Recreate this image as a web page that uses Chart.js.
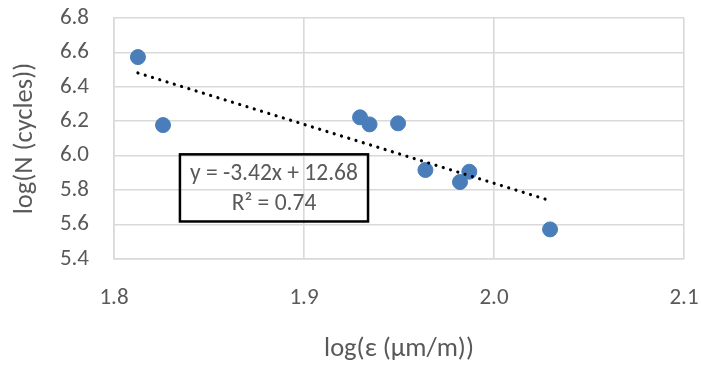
<!DOCTYPE html>
<html>
<head>
<meta charset="utf-8">
<script src="https://cdn.jsdelivr.net/npm/chart.js@4/dist/chart.umd.min.js"></script>
<style>
  html, body { margin: 0; padding: 0; background: #fff; }
  #wrap { width: 701px; height: 365px; }
</style>
</head>
<body>
<div id="wrap"><canvas id="fatigueChart" width="701" height="365"></canvas></div>
<script>
// log strain vs log cycles
const strainLog = [1.8126, 1.8258, 1.9295, 1.9345, 1.9495, 1.9639, 1.9870, 1.9821, 2.0295];
const cyclesLog = [6.573, 6.178, 6.223, 6.182, 6.188, 5.917, 5.907, 5.847, 5.572];

// linear trendline as printed in the box
const trendSlope = -3.42;
const trendIntercept = 12.68;
const trendLabels = ["y = -3.42x + 12.68", "R\u00b2 = 0.74"];

const xTicks = [1.8, 2.1];
const yTicks = [5.4, 6.8];

const FONT = "Carlito, Calibri, Lato, sans-serif";
const TEXT_GREY = "#595959";
const GRID_GREY = "#d9d9d9";

const xMin = Math.min(...strainLog);
const xMax = Math.max(...strainLog);
const trendPoints = [xMin, xMax].map(x => ({ x, y: trendSlope * x + trendIntercept }));

// equation box, placed in data units so it follows the scales
const eqBoxPlugin = {
  id: "eqBox",
  afterDatasetsDraw(chart) {
    const { ctx, scales } = chart;
    const left = scales.x.getPixelForValue(1.8347);
    const right = scales.x.getPixelForValue(1.9337);
    const top = scales.y.getPixelForValue(6.008);
    const bottom = scales.y.getPixelForValue(5.618);
    ctx.save();
    ctx.strokeStyle = "#000";
    ctx.lineWidth = 2.5;
    ctx.strokeRect(left, top, right - left, bottom - top);
    ctx.fillStyle = TEXT_GREY;
    ctx.font = `23.5px ${FONT}`;
    ctx.textAlign = "center";
    ctx.textBaseline = "middle";
    const cx = (left + right) / 2;
    const h = bottom - top;
    ctx.fillText(trendLabels[0], cx, top + h * 0.30);
    ctx.fillText(trendLabels[1], cx, top + h * 0.74);
    ctx.restore();
  },
};

// keep the plot area exactly where the padding puts it
function noLabelPadding(scale) {
  scale.paddingTop = 0;
  scale.paddingBottom = 0;
  scale.paddingLeft = 0;
  scale.paddingRight = 0;
}

const ctx = document.getElementById("fatigueChart").getContext("2d");

new Chart(ctx, {
  type: "scatter",
  data: {
    datasets: [
      {
        label: "data",
        data: strainLog.map((x, i) => ({ x, y: cyclesLog[i] })),
        backgroundColor: "#4a7ebb",
        borderColor: "#4a7ebb",
        pointRadius: 7.5,
        pointHoverRadius: 7.5,
        order: 2,
      },
      {
        label: "trend",
        type: "line",
        data: trendPoints,
        showLine: true,
        borderColor: "#000",
        borderWidth: 3.2,
        borderDash: [0.01, 7.6],
        borderCapStyle: "round",
        pointRadius: 0,
        fill: false,
        order: 1,
      },
    ],
  },
  options: {
    responsive: false,
    animation: false,
    events: [],
    layout: { padding: { top: 18, right: 17, left: 0, bottom: 0 } },
    plugins: {
      legend: { display: false },
      tooltip: { enabled: false },
    },
    scales: {
      x: {
        type: "linear",
        min: xTicks[0],
        max: xTicks[1],
        afterFit(scale) {
          scale.height = 106;
          noLabelPadding(scale);
        },
        ticks: {
          stepSize: 0.1,
          padding: 25,
          color: TEXT_GREY,
          font: { family: FONT, size: 23 },
          callback: v => Number(v).toFixed(1),
        },
        grid: { color: GRID_GREY, lineWidth: 1.6, drawTicks: false },
        border: { color: GRID_GREY, width: 1.6 },
        title: {
          display: true,
          text: "log(\u03b5 (\u00b5m/m))",
          color: TEXT_GREY,
          font: { family: FONT, size: 26.5 },
          padding: { top: 0, bottom: 0 },
        },
      },
      y: {
        type: "linear",
        min: yTicks[0],
        max: yTicks[1],
        afterFit(scale) {
          scale.width = 114;
          noLabelPadding(scale);
        },
        ticks: {
          stepSize: 0.2,
          padding: 25,
          color: TEXT_GREY,
          font: { family: FONT, size: 23 },
          callback: v => Number(v).toFixed(1),
        },
        grid: { color: GRID_GREY, lineWidth: 1.6, drawTicks: false },
        border: { color: GRID_GREY, width: 1.6 },
        title: {
          display: true,
          text: "log(N (cycles))",
          color: TEXT_GREY,
          font: { family: FONT, size: 26.5 },
          padding: { top: 9, bottom: 0 },
        },
      },
    },
  },
  plugins: [eqBoxPlugin],
});
</script>
</body>
</html>
